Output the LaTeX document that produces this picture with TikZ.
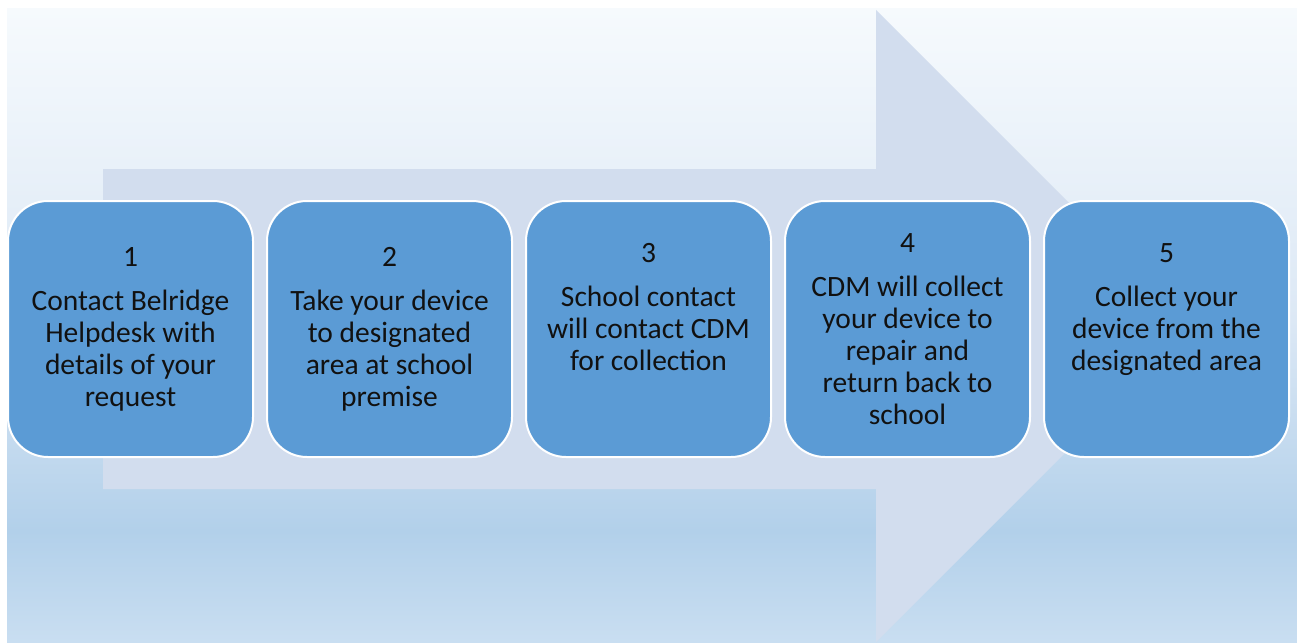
\documentclass[tikz,border=0pt]{standalone}
\usepackage{fontspec}
\setmainfont{Carlito}
\usetikzlibrary{positioning}
\definecolor{boxblue}{HTML}{5B9BD5}
\definecolor{arrowgrey}{HTML}{D2DDEE}
\definecolor{txtgrey}{HTML}{111111}
\definecolor{bgtop}{HTML}{F6FAFD}
\definecolor{bglight}{HTML}{DCE8F5}
\definecolor{bgmid}{HTML}{B2D0EA}
\definecolor{bgbot}{HTML}{C9DEF1}
\pgfdeclareverticalshading{bgshade}{100bp}{color(0bp)=(bgbot); color(25bp)=(bgbot); color(33.8bp)=(bgmid); color(50.4bp)=(bglight); color(75bp)=(bgtop); color(100bp)=(bgtop)}
\begin{document}
\begin{tikzpicture}[x=1pt,y=-1pt,
  stepbox/.style={draw=white,line width=2pt,fill=boxblue,rounded corners=40pt,
    minimum width=245pt,minimum height=256pt,outer sep=0pt,text=txtgrey,
    align=center,font=\fontsize{29.5}{32}\selectfont}]
\useasboundingbox (0,0) rectangle (1297,642);
\shade[shading=bgshade] (7,9) rectangle (1297,642);
\fill[arrowgrey] (103,169) -- (876,169) -- (876,10) -- (1192,326) -- (876,642) -- (876,489) -- (103,489) -- cycle;

\node[stepbox] (s1) at (130.5,329) {1\\[12pt]Contact Belridge\\Helpdesk with\\details of your\\request};
\node[stepbox,right=14pt of s1] (s2) {2\\[12pt]Take your device\\to designated\\area at school\\premise};
\node[stepbox,right=14pt of s2] (s3) {3\\[12pt]School contact\\will contact CDM\\for collection\\[12pt]\mbox{}};
\node[stepbox,right=14pt of s3] (s4) {4\\[12pt]CDM will collect\\your device to\\repair and\\return back to\\school};
\node[stepbox,right=14pt of s4] (s5) {5\\[12pt]Collect your\\device from the\\designated area\\[12pt]\mbox{}};
\end{tikzpicture}
\end{document}
